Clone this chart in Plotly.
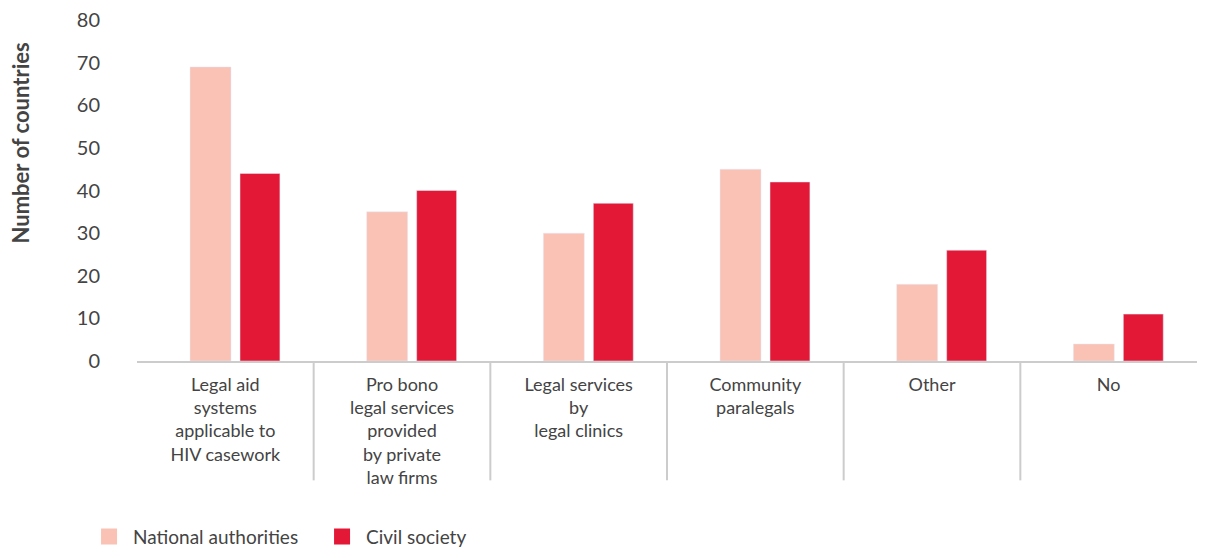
import plotly.graph_objects as go

categories = [
    "Legal aid<br>systems<br>applicable to<br>HIV casework",
    "Pro bono<br>legal services<br>provided<br>by private<br>law firms",
    "Legal services<br>by<br>legal clinics",
    "Community<br>paralegals",
    "Other",
    "No",
]
national_authorities = [69, 35, 30, 45, 18, 4]
civil_society = [44, 40, 37, 42, 26, 11]

C_NAT = "#FAC1B5"
C_CIV = "#E31837"
TXT = "#444444"
FONT = "Lato, 'Open Sans', sans-serif"

x_idx = list(range(len(categories)))

fig = go.Figure()
fig.add_trace(go.Bar(
    x=x_idx, y=national_authorities, name="National authorities",
    marker=dict(color=C_NAT), width=0.232, offset=-0.2, showlegend=False,
))
fig.add_trace(go.Bar(
    x=x_idx, y=civil_society, name="Civil society",
    marker=dict(color=C_CIV), width=0.226, offset=0.083, showlegend=False,
))
# legend entries with bigger square swatches
for name, col in [("National authorities", C_NAT), ("Civil society", C_CIV)]:
    fig.add_trace(go.Scatter(
        x=[None], y=[None], mode="markers", name=name,
        marker=dict(symbol="square", size=20, color=col),
    ))

# category separators below the axis
for i in range(len(categories) - 1):
    fig.add_shape(type="line", xref="x", yref="paper",
                  x0=i + 0.5, x1=i + 0.5, y0=-0.006, y1=-0.35,
                  line=dict(color="#CCCCCC", width=2))

fig.add_annotation(
    text="<b>Number of countries</b>", textangle=-90,
    xref="paper", yref="paper", x=-0.11, y=0.639,
    xanchor="center", yanchor="middle",
    showarrow=False, font=dict(size=22, color=TXT, family=FONT),
)

fig.update_layout(
    margin=dict(l=129, r=0, t=12, b=189, autoexpand=False),
    paper_bgcolor="white", plot_bgcolor="white",
    font=dict(family=FONT, size=18, color=TXT),
    showlegend=True,
    legend=dict(orientation="h", x=-0.049, xanchor="left", y=-0.515, yanchor="middle",
                font=dict(size=19, color=TXT), itemsizing="trace", itemwidth=38,
                entrywidth=180, tracegroupgap=0, bgcolor="rgba(0,0,0,0)"),
)
fig.update_xaxes(
    range=[-0.5, len(categories) - 0.5],
    tickmode="array", tickvals=x_idx, ticktext=categories,
    tickangle=0, showline=True, linecolor="#CCCCCC", linewidth=2,
    showgrid=False, zeroline=False, ticks="", ticklabelstandoff=6,
    tickfont=dict(size=18, color=TXT),
)
fig.update_yaxes(
    range=[0, 80], dtick=10, showgrid=False, zeroline=False, showline=False,
    ticks="", ticklabelstandoff=36, ticklabeloverflow="allow",
    tickfont=dict(size=20, color=TXT),
)

fig.write_html("out.html")
